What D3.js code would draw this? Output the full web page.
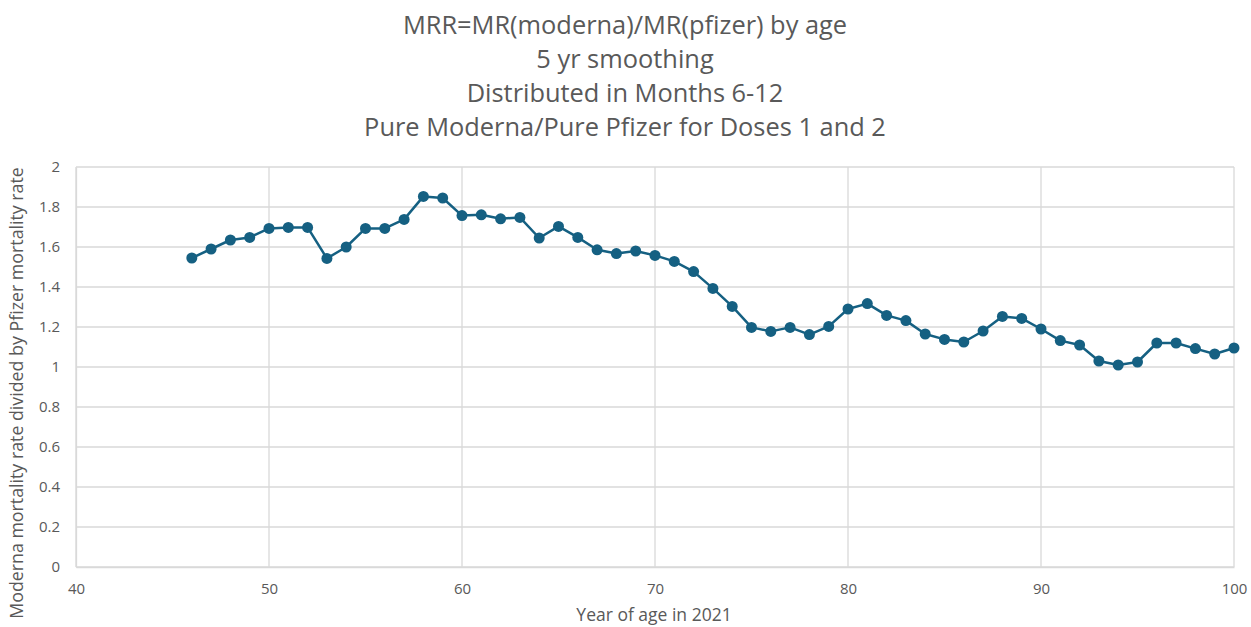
<!DOCTYPE html>
<html>
<head>
<meta charset="utf-8">
<script src="https://cdn.jsdelivr.net/npm/d3@7"></script>
<style>
  html, body { margin: 0; padding: 0; background: #fff; }
  svg { display: block; }
</style>
</head>
<body>
<svg id="chart" width="1251" height="627"></svg>
<script>
const titleLines = [
  "MRR=MR(moderna)/MR(pfizer) by age",
  "5 yr smoothing",
  "Distributed in Months 6-12",
  "Pure Moderna/Pure Pfizer for Doses 1 and 2"
];
const xAxisTitle = "Year of age in 2021";
const yAxisTitle = "Moderna mortality rate divided by Pfizer mortality rate";
const ages = [46,47,48,49,50,51,52,53,54,55,56,57,58,59,60,61,62,63,64,65,66,67,68,69,70,71,72,73,74,75,76,77,78,79,80,81,82,83,84,85,86,87,88,89,90,91,92,93,94,95,96,97,98,99,100];
const mrr = [1.545,1.59,1.635,1.648,1.693,1.698,1.698,1.543,1.60,1.693,1.693,1.738,1.853,1.845,1.757,1.761,1.741,1.748,1.645,1.703,1.648,1.586,1.567,1.58,1.558,1.528,1.477,1.393,1.303,1.198,1.178,1.198,1.162,1.203,1.29,1.317,1.258,1.232,1.165,1.138,1.125,1.18,1.253,1.243,1.19,1.132,1.11,1.03,1.01,1.025,1.12,1.12,1.092,1.065,1.095];
const xTicks = [40,50,60,70,80,90,100];
const yTicks = [0,0.2,0.4,0.6,0.8,1,1.2,1.4,1.6,1.8,2];

(function () {
const svg = d3.select("#chart");
const pLeft = 76, pRight = 1234, pTop = 167, pBottom = 567;
const x = d3.scaleLinear().domain([40,100]).range([pLeft,pRight]);
const y = d3.scaleLinear().domain([0,2]).range([pBottom,pTop]);
const textColor = "#595959";
const gridColor = "#d9d9d9";
const font = "'Open Sans', 'Liberation Sans', sans-serif";

// Title
svg.append("g").selectAll("text").data(titleLines).enter().append("text")
  .attr("x", 625).attr("y", (d,i) => 34 + i*34)
  .attr("text-anchor", "middle")
  .attr("font-family", font).attr("font-size", 25.4).attr("fill", textColor)
  .text(d => d);

// Gridlines
svg.append("g").selectAll("line").data(yTicks).enter().append("line")
  .attr("x1", pLeft).attr("x2", pRight)
  .attr("y1", d => y(d)).attr("y2", d => y(d))
  .attr("stroke", gridColor).attr("stroke-width", 1.3);
svg.append("g").selectAll("line").data(xTicks).enter().append("line")
  .attr("y1", pTop).attr("y2", pBottom)
  .attr("x1", d => x(d)).attr("x2", d => x(d))
  .attr("stroke", gridColor).attr("stroke-width", 1.3);

// Axes (labels only)
const xAxis = d3.axisBottom(x).tickValues(xTicks).tickSize(0).tickPadding(16).tickFormat(d3.format("d"));
const gx = svg.append("g").attr("transform", `translate(0,${pBottom})`).call(xAxis);
gx.select(".domain").attr("stroke", gridColor).attr("stroke-width", 1.3);
gx.selectAll("text").attr("font-family", font).attr("font-size", 15).attr("fill", textColor);

const yAxis = d3.axisLeft(y).tickValues(yTicks).tickSize(0).tickPadding(16).tickFormat(d => d3.format("~g")(d));
const gy = svg.append("g").attr("transform", `translate(${pLeft},0)`).call(yAxis);
gy.select(".domain").attr("stroke", gridColor).attr("stroke-width", 1.3);
gy.selectAll("text").attr("font-family", font).attr("font-size", 15).attr("fill", textColor);

// Axis titles
svg.append("text").attr("x", 654).attr("y", 621).attr("text-anchor", "middle")
  .attr("font-family", font).attr("font-size", 17.5).attr("fill", textColor).text(xAxisTitle);
svg.append("text").attr("transform", "translate(23,393) rotate(-90)").attr("text-anchor", "middle")
  .attr("font-family", font).attr("font-size", 17.8).attr("fill", textColor).text(yAxisTitle);

// Series
const data = ages.map((a,i) => ({a, v: mrr[i]}));
const lineColor = "#156082";
svg.append("path").datum(data)
  .attr("fill", "none").attr("stroke", lineColor).attr("stroke-width", 2.5)
  .attr("stroke-linejoin", "round")
  .attr("d", d3.line().x(d => x(d.a)).y(d => y(d.v)));
svg.append("g").selectAll("circle").data(data).enter().append("circle")
  .attr("cx", d => x(d.a)).attr("cy", d => y(d.v)).attr("r", 5.5)
  .attr("fill", lineColor);
})();
</script>
</body>
</html>
